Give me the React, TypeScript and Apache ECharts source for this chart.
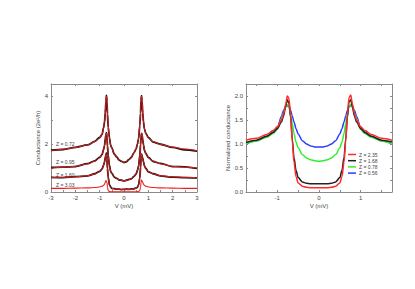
import React, { useEffect, useRef } from "react";
import * as echarts from "echarts";

// ---- Left panel: raw conductance (2e^2/h) vs V (mV) ----
const vLeft = [-3, -2.5, -2, -1.5, -1.2, -1, -0.9, -0.84, -0.8, -0.77, -0.74, -0.72, -0.7, -0.68, -0.65, -0.6, -0.55, -0.5, -0.4, -0.3, -0.2, -0.1, 0,
  0.1, 0.2, 0.3, 0.4, 0.5, 0.55, 0.6, 0.65, 0.68, 0.7, 0.72, 0.74, 0.77, 0.8, 0.84, 0.9, 1, 1.2, 1.5, 2, 2.5, 3];

const fitZ072 = [1.72, 1.78, 1.85, 1.97, 2.1, 2.25, 2.42, 2.65, 2.95, 3.35, 3.85, 4.0, 3.8, 3.3, 2.75, 2.25, 1.98, 1.82, 1.6, 1.45, 1.34, 1.27, 1.24,
  1.27, 1.34, 1.45, 1.6, 1.82, 1.98, 2.25, 2.75, 3.3, 3.8, 4.0, 3.85, 3.35, 2.95, 2.65, 2.42, 2.25, 2.1, 1.98, 1.87, 1.79, 1.72];
const dataZ072 = [1.74, 1.77, 1.86, 1.96, 2.11, 2.27, 2.4, 2.68, 2.9, 3.3, 3.8, 4.02, 3.75, 3.25, 2.7, 2.28, 1.95, 1.84, 1.58, 1.46, 1.33, 1.28, 1.23,
  1.26, 1.35, 1.44, 1.62, 1.8, 1.99, 2.22, 2.78, 3.28, 3.82, 4.01, 3.8, 3.3, 2.92, 2.62, 2.44, 2.27, 2.08, 1.99, 1.86, 1.76, 1.7];

const fitZ095 = [1.0, 1.03, 1.07, 1.17, 1.28, 1.42, 1.58, 1.75, 1.95, 2.2, 2.42, 2.45, 2.3, 1.95, 1.5, 1.1, 0.88, 0.76, 0.63, 0.56, 0.51, 0.48, 0.47,
  0.48, 0.51, 0.56, 0.63, 0.76, 0.88, 1.1, 1.5, 1.95, 2.3, 2.45, 2.42, 2.2, 1.95, 1.75, 1.58, 1.42, 1.28, 1.17, 1.07, 1.03, 1.0];
const dataZ095 = [1.02, 1.04, 1.06, 1.18, 1.3, 1.44, 1.56, 1.77, 1.93, 2.22, 2.4, 2.47, 2.27, 1.93, 1.52, 1.12, 0.86, 0.78, 0.62, 0.57, 0.5, 0.49, 0.46,
  0.49, 0.52, 0.55, 0.64, 0.75, 0.9, 1.08, 1.52, 1.97, 2.28, 2.44, 2.4, 2.18, 1.97, 1.73, 1.6, 1.44, 1.27, 1.19, 1.06, 1.05, 0.98];

const fitZ160 = [0.6, 0.61, 0.63, 0.68, 0.75, 0.85, 0.97, 1.1, 1.25, 1.42, 1.58, 1.6, 1.4, 1.0, 0.6, 0.3, 0.2, 0.16, 0.13, 0.12, 0.11, 0.11, 0.11,
  0.11, 0.11, 0.12, 0.13, 0.16, 0.2, 0.3, 0.6, 1.0, 1.4, 1.6, 1.58, 1.42, 1.25, 1.1, 0.97, 0.85, 0.75, 0.68, 0.63, 0.61, 0.6];
const dataZ160 = [0.61, 0.6, 0.64, 0.67, 0.76, 0.86, 0.96, 1.12, 1.24, 1.44, 1.56, 1.62, 1.38, 0.98, 0.62, 0.31, 0.21, 0.15, 0.14, 0.12, 0.12, 0.1, 0.11,
  0.12, 0.11, 0.13, 0.13, 0.17, 0.19, 0.31, 0.58, 1.02, 1.42, 1.58, 1.56, 1.4, 1.26, 1.09, 0.98, 0.84, 0.76, 0.67, 0.62, 0.6, 0.59];

const fitZ303 = [0.15, 0.15, 0.16, 0.17, 0.19, 0.21, 0.24, 0.28, 0.33, 0.4, 0.48, 0.5, 0.4, 0.2, 0.06, 0.02, 0.01, 0.01, 0.01, 0.01, 0.01, 0.01, 0.01,
  0.01, 0.01, 0.01, 0.01, 0.01, 0.01, 0.02, 0.06, 0.2, 0.4, 0.5, 0.48, 0.4, 0.33, 0.28, 0.24, 0.21, 0.19, 0.17, 0.16, 0.15, 0.15];

// ---- Right panel: normalized conductance vs V (mV) ----
const vRight = [-1.75, -1.5, -1.25, -1.1, -1, -0.9, -0.85, -0.8, -0.76, -0.72, -0.68, -0.64, -0.6, -0.55, -0.5, -0.4, -0.3, -0.2, -0.1, 0,
  0.1, 0.2, 0.3, 0.4, 0.5, 0.55, 0.6, 0.64, 0.68, 0.72, 0.76, 0.8, 0.85, 0.9, 1, 1.1, 1.25, 1.5, 1.75];

const normZ235 = [1.08, 1.12, 1.2, 1.28, 1.36, 1.5, 1.62, 1.82, 2.0, 1.95, 1.6, 1.05, 0.62, 0.32, 0.19, 0.12, 0.1, 0.09, 0.09, 0.09,
  0.09, 0.09, 0.1, 0.12, 0.19, 0.32, 0.62, 1.05, 1.6, 1.97, 2.02, 1.84, 1.63, 1.5, 1.36, 1.28, 1.2, 1.12, 1.08];
const normZ168 = [1.03, 1.08, 1.16, 1.24, 1.32, 1.46, 1.58, 1.78, 1.92, 1.85, 1.55, 1.1, 0.72, 0.45, 0.3, 0.21, 0.18, 0.17, 0.17, 0.17,
  0.17, 0.17, 0.18, 0.21, 0.3, 0.45, 0.72, 1.1, 1.55, 1.88, 1.92, 1.78, 1.58, 1.46, 1.32, 1.24, 1.16, 1.08, 1.04];
const normZ078 = [1.0, 1.06, 1.14, 1.22, 1.3, 1.52, 1.64, 1.76, 1.82, 1.78, 1.62, 1.42, 1.22, 1.04, 0.92, 0.78, 0.71, 0.67, 0.65, 0.64,
  0.65, 0.67, 0.71, 0.78, 0.92, 1.04, 1.22, 1.42, 1.62, 1.78, 1.82, 1.76, 1.64, 1.52, 1.3, 1.22, 1.14, 1.06, 1.0];
const normZ056 = [1.0, 1.07, 1.16, 1.25, 1.33, 1.58, 1.7, 1.78, 1.8, 1.78, 1.7, 1.58, 1.46, 1.32, 1.21, 1.07, 1.0, 0.96, 0.94, 0.94,
  0.94, 0.96, 1.0, 1.07, 1.21, 1.32, 1.46, 1.58, 1.7, 1.78, 1.8, 1.78, 1.7, 1.58, 1.33, 1.25, 1.16, 1.07, 1.0];

const leftLabels = ["Z = 0.72", "Z = 0.95", "Z = 1.60", "Z = 3.03"];
const rightLabels = ["Z = 2.35", "Z = 1.68", "Z = 0.78", "Z = 0.56"];

const leftXTicks = [-3, -2, -1, 0, 1, 2, 3];
const leftXMinor = [-3, -2.5, -2, -1.5, -1, -0.5, 0, 0.5, 1, 1.5, 2, 2.5, 3];
const leftYTicks = [0, 2, 4];
const leftYMinor = [0, 1, 2, 3, 4];
const rightXTicks = [-1, 0, 1];
const rightXMinor = [-1.5, -1, -0.5, 0, 0.5, 1, 1.5];
const rightYTicks = [0, 0.5, 1.0, 1.5, 2.0];
const rightYMinor = [0, 0.25, 0.5, 0.75, 1.0, 1.25, 1.5, 1.75, 2.0];

const pairs = (xs: number[], ys: number[]) => xs.map((x, i) => [x, ys[i]]);

const AXIS = "#8a8a8a";
const TXT = "#444";

export default function App() {
  const ref = useRef<HTMLDivElement>(null);
  useEffect(() => {
    if (!ref.current) return;
    const chart = echarts.init(ref.current, undefined, { renderer: "svg" });

    const mkX = (grid: number, min: number, max: number, labels: number[], ticks: number[], bottom: boolean, name?: string) => ({
      type: "value",
      gridIndex: grid,
      position: bottom ? "bottom" : "top",
      min,
      max,
      name: bottom ? name : undefined,
      nameLocation: "middle",
      nameGap: 11,
      nameTextStyle: { fontSize: 6, color: TXT, fontFamily: "Liberation Sans" },
      axisLine: { show: true, onZero: false, lineStyle: { color: AXIS, width: 1 } },
      axisTick: { show: true, inside: true, length: 2, customValues: bottom ? ticks : labels, lineStyle: { color: AXIS } },
      axisLabel: { show: bottom, customValues: labels, fontSize: 6, color: TXT, margin: 3, fontFamily: "Liberation Sans" },
      splitLine: { show: false },
    });
    const mkY = (grid: number, min: number, max: number, labels: number[], ticks: number[], left: boolean, name: string | undefined, gap: number, fmt?: (v: number) => string) => ({
      type: "value",
      gridIndex: grid,
      position: left ? "left" : "right",
      min,
      max,
      name: left ? name : undefined,
      nameLocation: "middle",
      nameGap: gap,
      nameTextStyle: { fontSize: 6, color: TXT, fontFamily: "Liberation Sans" },
      axisLine: { show: true, onZero: false, lineStyle: { color: AXIS, width: 1 } },
      axisTick: { show: true, inside: true, length: 2, customValues: ticks, lineStyle: { color: AXIS } },
      axisLabel: { show: left, customValues: labels, fontSize: 6, color: TXT, margin: 3, fontFamily: "Liberation Sans", formatter: fmt },
      splitLine: { show: false },
    });

    const line = (name: string, x: number, y: number, data: number[][], color: string, width: number, z: number) => ({
      type: "line",
      name,
      xAxisIndex: x,
      yAxisIndex: y,
      data,
      showSymbol: false,
      smooth: 0.3,
      smoothMonotone: "x",
      lineStyle: { color, width },
      itemStyle: { color },
      z,
      silent: true,
    });

    const RED = "#f01c1c";
    const BLK = "#111111";

    chart.setOption({
      animation: false,
      grid: [
        { left: 51, top: 84, width: 146, height: 108 },
        { left: 246, top: 84, width: 146, height: 108 },
      ],
      xAxis: [
        mkX(0, -3, 3, leftXTicks, leftXMinor, true, "V (mV)"),
        mkX(0, -3, 3, [-2, -1, 0, 1, 2], leftXMinor, false),
        mkX(1, -1.75, 1.75, rightXTicks, rightXMinor, true, "V (mV)"),
        mkX(1, -1.75, 1.75, rightXMinor, rightXMinor, false),
      ],
      yAxis: [
        mkY(0, 0, 4.5, leftYTicks, leftYMinor, true, "Conductance (2e²/h)", 9),
        mkY(0, 0, 4.5, leftYTicks, leftYMinor, false, undefined, 0),
        mkY(1, 0, 2.25, rightYTicks, rightYMinor, true, "Normalized conductance", 14, (v: number) => v.toFixed(1)),
        mkY(1, 0, 2.25, rightYTicks, rightYMinor, false, undefined, 0),
      ],
      legend: {
        data: rightLabels,
        orient: "vertical",
        left: 348,
        top: 152,
        itemWidth: 8,
        itemHeight: 1.5,
        itemGap: 1.2,
        icon: "rect",
        textStyle: { fontSize: 5, color: TXT, fontFamily: "Liberation Sans", padding: [0, 0, 0, -2] },
        padding: 0,
        selectedMode: false,
      },
      graphic: [
        { type: "text", left: 56, top: 141.5, style: { text: leftLabels[0], fontSize: 5, fill: TXT, fontFamily: "Liberation Sans" } },
        { type: "text", left: 56, top: 159.5, style: { text: leftLabels[1], fontSize: 5, fill: TXT, fontFamily: "Liberation Sans" } },
        { type: "text", left: 56, top: 172, style: { text: leftLabels[2], fontSize: 5, fill: TXT, fontFamily: "Liberation Sans" } },
        { type: "text", left: 56, top: 182.5, style: { text: leftLabels[3], fontSize: 5, fill: TXT, fontFamily: "Liberation Sans" } },
      ],
      series: [
        line("d072", 0, 0, pairs(vLeft, dataZ072), BLK, 1.8, 2),
        line("d095", 0, 0, pairs(vLeft, dataZ095), BLK, 1.8, 2),
        line("d160", 0, 0, pairs(vLeft, dataZ160), BLK, 1.8, 2),
        line("f072", 0, 0, pairs(vLeft, fitZ072), RED, 1, 3),
        line("f095", 0, 0, pairs(vLeft, fitZ095), RED, 1, 3),
        line("f160", 0, 0, pairs(vLeft, fitZ160), RED, 1, 3),
        line("f303", 0, 0, pairs(vLeft, fitZ303), RED, 1.1, 3),
        line(rightLabels[3], 2, 2, pairs(vRight, normZ056), "#2a3cff", 1.5, 2),
        line(rightLabels[2], 2, 2, pairs(vRight, normZ078), "#33ee33", 1.5, 3),
        line(rightLabels[1], 2, 2, pairs(vRight, normZ168), "#222222", 1.5, 4),
        line(rightLabels[0], 2, 2, pairs(vRight, normZ235), "#ff2a2a", 1.5, 5),
      ],
    });
    return () => chart.dispose();
  }, []);
  return <div ref={ref} style={{ position: "fixed", left: 0, top: 0, width: 415, height: 289, background: "#fff" }} />;
}
